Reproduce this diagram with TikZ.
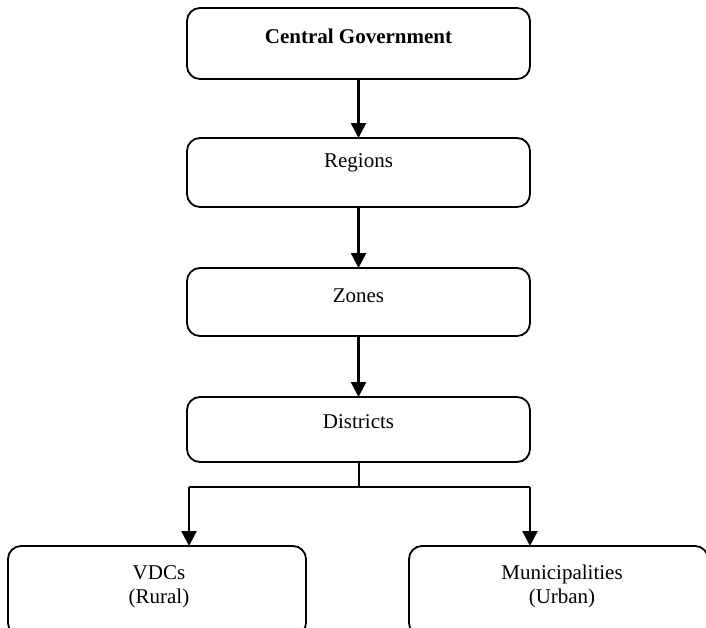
\documentclass[tikz,border=0pt]{standalone}
\usepackage{fontspec}
\setmainfont{Liberation Serif}
\usetikzlibrary{arrows.meta}
\begin{document}
\begin{tikzpicture}[x=1pt,y=-1pt,
  box/.style={draw, line width=1.8pt, rounded corners=13pt, inner sep=0pt, outer sep=0pt},
  lbl/.style={anchor=base, inner sep=0pt, font=\fontsize{21}{24}\selectfont, align=center},
  arr/.style={line width=2.4pt, -{Triangle[width=15pt,length=15pt]}},
  conn/.style={line width=2pt}]
\useasboundingbox (0,0) rectangle (706,627);
% boxes
\node[box, minimum width=343pt, minimum height=71pt] (cg) at (358.5,43.5) {};
\node[box, minimum width=343pt, minimum height=69pt] (reg) at (358.5,172.5) {};
\node[box, minimum width=343pt, minimum height=68pt] (zon) at (358.5,302) {};
\node[box, minimum width=343pt, minimum height=65pt] (dis) at (358.5,429.5) {};
\node[box, minimum width=298pt, minimum height=90pt] (vdc) at (157,591) {};
\node[box, minimum width=299pt, minimum height=90pt] (mun) at (558.5,591) {};
% texts
\node[lbl, font=\fontsize{21}{24}\selectfont\bfseries] (tcg) at (358.5,43) {Central Government};
\node[lbl] (treg) at (358.5,167) {Regions};
\node[lbl] (tzon) at (358.5,302) {Zones};
\node[lbl] (tdis) at (358.5,428) {Districts};
\node[lbl] (tvdc) at (159,579) {VDCs};
\node[lbl] (tvdc2) at (159,603) {(Rural)};
\node[lbl] (tmun) at (562,579) {Municipalities};
\node[lbl] (tmun2) at (562,603) {(Urban)};
% connectors
\draw[arr] (cg.south) -- (reg.north);
\draw[arr] (reg.south) -- (zon.north);
\draw[arr] (zon.south) -- (dis.north);
\coordinate (split) at (358.5,487);
\coordinate (lt) at (189,487);
\coordinate (rt) at (530,487);
\draw[conn] (dis.south) -- (split);
\draw[conn] (lt) -- (rt);
\draw[arr] (lt) -- (lt |- vdc.north);
\draw[arr] (rt) -- (rt |- mun.north);
\end{tikzpicture}
\end{document}
